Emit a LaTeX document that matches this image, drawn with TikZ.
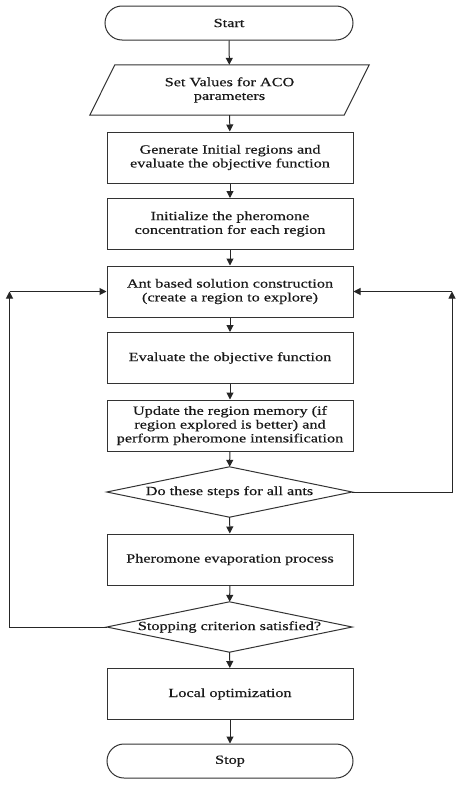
\documentclass[tikz,border=0pt]{standalone}
\usepackage{fontspec}
\setmainfont[FakeStretch=1.3,FakeBold=0.4]{Liberation Serif}
\usetikzlibrary{arrows.meta}
\begin{document}
\begin{tikzpicture}[x=1pt,y=-1pt,
  every node/.style={font=\fontsize{12.5}{13.8}\selectfont, align=center, inner sep=0pt, text=black!90},
  box/.style={draw=black!80, line width=1pt, rectangle, minimum width=246pt, minimum height=51pt},
  term/.style={draw=black!80, line width=1pt, rectangle, rounded corners=17pt, minimum width=248pt, minimum height=34pt},
  plain/.style={rectangle, minimum width=245pt, minimum height=50pt},
  shapeline/.style={draw=black!80, line width=1pt},
  arr/.style={draw=black!85, line width=1pt, -{Triangle[length=7pt,width=7pt]}}
]
\useasboundingbox (0,0) rectangle (457,787);
\fill[white] (0,0) rectangle (457,787);

\node[term] (start) at (229,23) {Start};
\node[plain, minimum width=254pt] (par) at (229.5,90) {Set Values for ACO\\parameters};
\draw[shapeline] ([xshift=12.5pt]par.north west) -- ([xshift=12.5pt]par.north east)
  -- ([xshift=-12.5pt]par.south east) -- ([xshift=-12.5pt]par.south west) -- cycle;
\node[box] (gen) at (230,157.5) {Generate Initial regions and\\evaluate the objective function};
\node[box] (init) at (230,224) {Initialize the pheromone\\concentration for each region};
\node[box] (ant) at (230,291.5) {Ant based solution construction\\(create a region to explore)};
\node[box] (eval) at (230,358) {Evaluate the objective function};
\node[box] (upd) at (230,425.5) {Update the region memory (if\\region explored is better) and\\perform pheromone intensification};
\node[plain] (d1) at (229.5,492) {Do these steps for all ants};
\draw[shapeline] (d1.north) -- (d1.east) -- (d1.south) -- (d1.west) -- cycle;
\node[box] (evap) at (230,559.5) {Pheromone evaporation process};
\node[plain] (d2) at (229.5,627) {Stopping criterion satisfied?};
\draw[shapeline] (d2.north) -- (d2.east) -- (d2.south) -- (d2.west) -- cycle;
\node[box] (loc) at (230,694) {Local optimization};
\node[term, minimum width=246pt] (stop) at (230,761) {Stop};

\coordinate (lc) at (9.5,291.5);
\coordinate (rc) at (452,291.5);

\draw[arr] (start) -- (par);
\draw[arr] (par) -- (gen);
\draw[arr] (gen) -- (init);
\draw[arr] (init) -- (ant);
\draw[arr] (ant) -- (eval);
\draw[arr] (eval) -- (upd);
\draw[arr] (upd) -- (d1);
\draw[arr] (d1) -- (evap);
\draw[arr] (evap) -- (d2);
\draw[arr] (d2) -- (loc);
\draw[arr] (loc) -- (stop);

\draw[arr] (d2.west) -| (lc);
\draw[arr] (lc) -- (ant.west);
\draw[arr] (d1.east) -| (rc);
\draw[arr] (rc) -- (ant.east);
\end{tikzpicture}
\end{document}
